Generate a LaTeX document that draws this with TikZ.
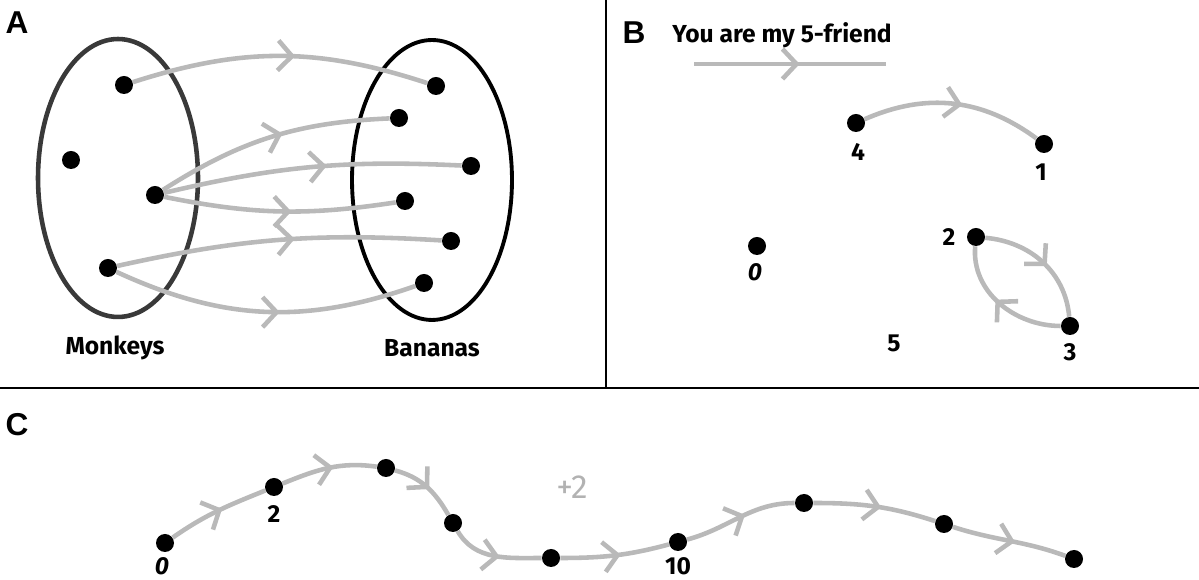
\documentclass[tikz,border=0pt]{standalone}
\usepackage{fontspec}
\setmainfont{Liberation Sans}
\newfontfamily\handfont{Fira Sans}
\usetikzlibrary{arrows.meta,decorations.markings}

\begin{document}
\begin{tikzpicture}[x=0.02cm,y=0.02cm]
  \tikzstyle{dot}=[circle,fill=black,inner sep=0pt,minimum size=0.36cm]
  \tikzstyle{friend}=[color=gray!55,line width=2.6pt,postaction={decorate},decoration={markings,mark=at position 0.55 with {\arrow{Straight Barb[length=2.8mm,width=6mm]}}}]
  \tikzstyle{panel}=[font=\fontsize{18}{20}\selectfont\bfseries]
  \tikzstyle{lbl}=[font=\handfont\fontsize{14}{16}\selectfont\bfseries]

  \useasboundingbox (0,0) rectangle (1199,580);

  % dividers
  \draw[line width=1.5pt] (0,192) -- (1199,192);
  \draw[line width=1.3pt] (606,192) -- (606,580);

  % panel A
  \node[panel] (tagA) at (17,557) {A};
  \draw[gray!45!black,line width=2.6pt] (118,402) ellipse [x radius=1.6cm,y radius=2.78cm];
  \draw[black,line width=2.2pt] (432,400) ellipse [x radius=1.6cm,y radius=2.8cm];
  \node[lbl] (monkeys) at (115,232) {Monkeys};
  \node[lbl] (bananas) at (432,232) {Bananas};

  \node[dot] (m1) at (124,495) {};
  \node[dot] (m2) at (71,420) {};
  \node[dot] (m3) at (155,385) {};
  \node[dot] (m4) at (108,312) {};
  \node[dot] (b1) at (436,494) {};
  \node[dot] (b2) at (399,462) {};
  \node[dot] (b3) at (471,414) {};
  \node[dot] (b4) at (405,379) {};
  \node[dot] (b5) at (451,339) {};
  \node[dot] (b6) at (424,297) {};

  \draw[friend] (m1) to[bend left=18] (b1);
  \draw[friend] (m3) to[bend left=15] (b2);
  \draw[friend] (m3) to[bend left=8] (b3);
  \draw[friend] (m3) to[bend right=10] (b4);
  \draw[friend] (m4) to[bend left=8] (b5);
  \draw[friend] (m4) to[bend right=22] (b6);

  % panel B
  \node[panel] (tagB) at (634,547) {B};
  \node[lbl] (title) at (782,545) {You are my 5-friend};
  \coordinate (keyl) at (694,516);
  \coordinate (keyr) at (886,516);
  \draw[friend] (keyl) -- (keyr);

  \node[dot] (d4) at (856,457) {};
  \node[dot] (d1) at (1044,436) {};
  \node[dot] (d0) at (757,334) {};
  \node[dot] (d2) at (976,343) {};
  \node[dot] (d3) at (1070,254) {};
  \node[lbl] (n4) at (858,428) {4};
  \node[lbl] (n1) at (1041,408) {1};
  \node[lbl] (n0) at (755,308) {\itshape 0};
  \node[lbl] (n2) at (949,343) {2};
  \node[lbl] (n3) at (1070,228) {3};
  \node[lbl] (n5) at (894,237) {5};

  \draw[friend] (d4) to[bend left=30] (d1);
  \draw[friend] (d2) to[out=-5,in=95] (d3);
  \draw[friend] (d3) to[out=180,in=-95] (d2);

  % panel C
  \node[panel] (tagC) at (17,155) {C};
  \node[font=\handfont\fontsize{19}{21}\selectfont,text=gray!60] (plus) at (572,93) {+2};
  \node[dot] (c0) at (165,37) {};
  \node[dot] (c2) at (274,93) {};
  \node[dot] (c4) at (386,112) {};
  \node[dot] (c6) at (453,57) {};
  \node[dot] (c8) at (551,22) {};
  \node[dot] (c10) at (678,38) {};
  \node[dot] (c12) at (804,77) {};
  \node[dot] (c14) at (944,56) {};
  \node[dot] (c16) at (1074,21) {};
  \node[lbl] (k0) at (162,14) {\itshape 0};
  \node[lbl] (k2) at (274,66) {2};
  \node[lbl] (k10) at (678,14) {10};

  \draw[friend] (c0) to[out=35,in=202] (c2);
  \draw[friend] (c2) to[out=22,in=172] (c4);
  \draw[friend] (c4) to[out=-15,in=120] (c6);
  \draw[friend] (c6) to[out=-60,in=180] (c8);
  \draw[friend] (c8) to[out=0,in=195] (c10);
  \draw[friend] (c10) to[out=15,in=180] (c12);
  \draw[friend] (c12) to[out=0,in=162] (c14);
  \draw[friend] (c14) to[out=-18,in=160] (c16);
\end{tikzpicture}
\end{document}
